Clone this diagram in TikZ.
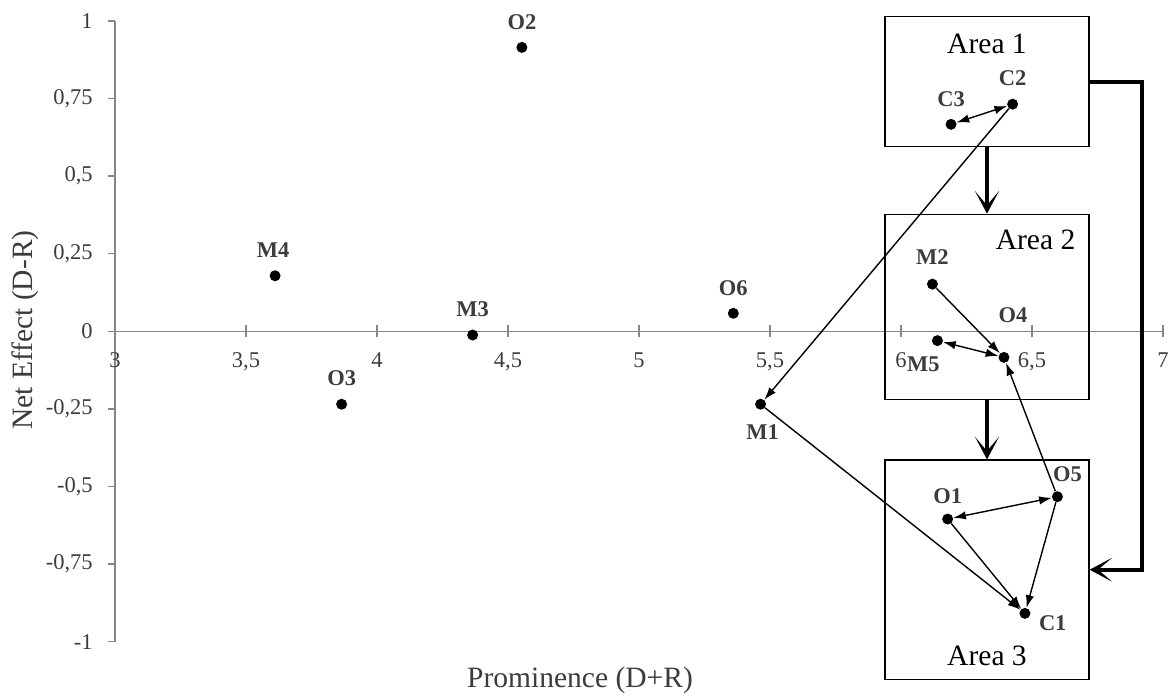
\documentclass[tikz,border=0pt]{standalone}
\usepackage{fontspec}
\setmainfont{Liberation Serif}
\usetikzlibrary{positioning,arrows.meta}

\definecolor{axisgray}{RGB}{134,134,134}
\definecolor{txtgray}{RGB}{60,60,60}

\tikzset{
    axis/.style={draw=axisgray, line width=1pt},
    ticklbl/.style={inner sep=0pt, text=txtgray, font=\fontsize{16}{19}\selectfont},
    axtitle/.style={inner sep=0pt, text=txtgray, font=\fontsize{21}{25}\selectfont},
    dot/.style={circle, fill=black, inner sep=0pt, minimum size=0.275cm},
    lbl/.style={inner sep=0pt, text=txtgray, font=\fontsize{16}{19}\selectfont\bfseries},
    areabox/.style={draw, line width=0.9pt, minimum width=5.1cm},
    arealbl/.style={inner sep=0pt, font=\fontsize{21}{25}\selectfont},
    conn/.style={line width=1pt, -{Latex[length=9pt,width=6pt]}},
    biconn/.style={line width=1pt, {Latex[length=9pt,width=6pt]}-{Latex[length=9pt,width=6pt]}},
    flow/.style={line width=2.8pt, -{Stealth[length=16pt,width=17pt,inset=10pt]}}
}

\begin{document}
\begin{tikzpicture}[x=6.55cm, y=7.7575cm]
    \useasboundingbox (2.5611,-1.1721) rectangle (7.0191,1.0677);

    % axes
    \draw[axis] (3,-1) -- (3,1);
    \draw[axis] (3,0) -- (7,0);
    \foreach \y/\t in {1/1, 0.75/{0,75}, 0.5/{0,5}, 0.25/{0,25}, 0/0, -0.25/{-0,25}, -0.5/{-0,5}, -0.75/{-0,75}, -1/-1} {
        \draw[axis] (3,\y) -- ++(-0.18cm,0);
        \node[ticklbl, left=0.55cm] (yl\y) at (3,\y) {\t};
    }
    \foreach \x/\t in {3/3, 3.5/{3,5}, 4/4, 4.5/{4,5}, 5/5, 5.5/{5,5}, 6/6, 6.5/{6,5}, 7/7} {
        \draw[axis] (\x,0) ++(0,-0.15cm) -- ++(0,0.3cm);
        \node[ticklbl, below=0.52cm] (xl\x) at (\x,0) {\t};
    }
    \node[axtitle, rotate=90] (ytitle) at (2.6565,0.004) {Net Effect (D-R)};
    \node[axtitle] (xtitle) at (4.7748,-1.1237) {Prominence (D+R)};

    % areas
    \node[areabox, minimum height=3.25cm] (area1) at (6.3282,0.8044) {};
    \node[areabox, minimum height=4.625cm] (area2) at (6.3282,0.0790) {};
    \node[areabox, minimum height=5.4825cm] (area3) at (6.3282,-0.7683) {};
    \node[arealbl, below=0.45cm of area1.north] (a1l) {Area 1};
    \node[arealbl, below left=0.40cm and 0.35cm of area2.north east] (a2l) {Area 2};
    \node[arealbl, above=0.36cm of area3.south] (a3l) {Area 3};

    \draw[flow] (area1.south) -- (area2.north);
    \draw[flow] (area2.south) -- (area3.north);
    \draw[flow] (area1.east) -- ++(1.32cm,0) |- (area3.east);

    % points
    \node[dot] (O2) at (4.553,0.915) {};
    \node[dot] (M4) at (3.611,0.179) {};
    \node[dot] (O3) at (3.865,-0.235) {};
    \node[dot] (M3) at (4.365,-0.012) {};
    \node[dot] (O6) at (5.360,0.058) {};
    \node[dot] (M1) at (5.464,-0.235) {};
    \node[dot] (C2) at (6.426,0.732) {};
    \node[dot] (C3) at (6.191,0.667) {};
    \node[dot] (M2) at (6.120,0.152) {};
    \node[dot] (O4) at (6.393,-0.084) {};
    \node[dot] (M5) at (6.139,-0.030) {};
    \node[dot] (O5) at (6.597,-0.533) {};
    \node[dot] (O1) at (6.178,-0.605) {};
    \node[dot] (C1) at (6.473,-0.909) {};

    \node[lbl, above=0.3cm of O2] (O2l) {O2};
    \node[lbl, above=0.3cm of M4, xshift=-0.05cm] (M4l) {M4};
    \node[lbl, above=0.3cm of O3] (O3l) {O3};
    \node[lbl, above=0.3cm of M3] (M3l) {M3};
    \node[lbl, above=0.3cm of O6] (O6l) {O6};
    \node[lbl, below=0.35cm of M1, xshift=0.05cm] (M1l) {M1};
    \node[lbl, above=0.3cm of C2] (C2l) {C2};
    \node[lbl, above=0.28cm of C3] (C3l) {C3};
    \node[lbl, above=0.33cm of M2] (M2l) {M2};
    \node[lbl, above=0.72cm of O4, xshift=0.225cm] (O4l) {O4};
    \node[lbl, below=0.25cm of M5, xshift=-0.35cm] (M5l) {M5};
    \node[lbl, above=0.22cm of O5, xshift=0.25cm] (O5l) {O5};
    \node[lbl, above=0.22cm of O1] (O1l) {O1};
    \node[lbl, right=0.2cm of C1, yshift=-0.25cm] (C1l) {C1};

    % relations
    \draw[biconn] (C3) -- (C2);
    \draw[conn] (C2) -- (M1);
    \draw[conn] (M2) -- (O4);
    \draw[biconn] (M5) -- (O4);
    \draw[conn] (O5) -- (O4);
    \draw[biconn] (O1) -- (O5);
    \draw[conn] (O1) -- (C1);
    \draw[conn] (O5) -- (C1);
    \draw[conn] (M1) -- (C1);
\end{tikzpicture}
\end{document}
